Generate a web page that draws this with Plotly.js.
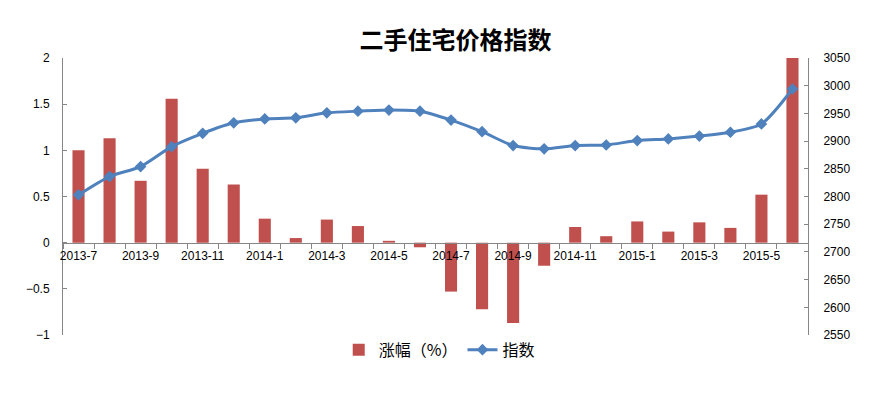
<!DOCTYPE html>
<html>
<head>
<meta charset="utf-8">
<script src="https://cdn.plot.ly/plotly-3.0.1.min.js"></script>
<style>
html,body{margin:0;padding:0;background:#fff;}
#chart{width:876px;height:393px;}
</style>
</head>
<body>
<div id="chart"></div>
<script>
const months = ["2013-7","2013-8","2013-9","2013-10","2013-11","2013-12",
  "2014-1","2014-2","2014-3","2014-4","2014-5","2014-6",
  "2014-7","2014-8","2014-9","2014-10","2014-11","2014-12",
  "2015-1","2015-2","2015-3","2015-4","2015-5","2015-6"];
const change = [1.00,1.13,0.67,1.56,0.80,0.63,0.26,0.05,0.25,0.18,0.02,-0.05,
  -0.53,-0.72,-0.87,-0.25,0.17,0.07,0.23,0.12,0.22,0.16,0.52,2.00];
const indexVals = [2803,2836,2854,2890,2914,2933,2940,2942,2951,2954,2956,2954,
  2938,2917,2892,2886,2892,2893,2901,2904,2909,2916,2931,2994];
const seriesNames = ["涨幅（%）","指数"];
const titleText = "二手住宅价格指数";

const xi = months.map((m,i)=>i);
const labelIdx = xi.filter(i=>i%2===0);
const labelText = labelIdx.map(i=>months[i]);

const axisColor = "#868686";
const numFont = "Liberation Sans, Arial, Noto Sans CJK SC, sans-serif";
const cjkFont = "Noto Sans CJK SC, Liberation Sans, sans-serif";

const traces = [
  {type:"bar", x:xi, y:change, name:seriesNames[0],
   marker:{color:"#C0504D"}, hoverinfo:"skip"},
  {type:"scatter", mode:"lines+markers", x:xi, y:indexVals, name:seriesNames[1],
   yaxis:"y2", line:{color:"#4F81BD", width:3, shape:"spline", smoothing:0.7},
   marker:{symbol:"diamond", size:9, color:"#4F81BD"}, hoverinfo:"skip"}
];

const layout = {
  width:876, height:393,
  margin:{l:63, r:68, t:58, b:58},
  paper_bgcolor:"#fff", plot_bgcolor:"rgba(0,0,0,0)",
  bargap:0.61,
  showlegend:true,
  title:{text:titleText, x:0.52, xanchor:"center", y:0.897, yanchor:"middle",
    font:{family:cjkFont, size:24, color:"#000", weight:"bold"}},
  legend:{orientation:"h", x:0.505, xanchor:"center", y:0.008, yanchor:"top",
    font:{family:cjkFont, size:16, color:"#000"}, bgcolor:"rgba(0,0,0,0)",
    itemwidth:30, tracegroupgap:0},
  xaxis:{type:"linear", range:[-0.5, xi.length-0.5], anchor:"free", position:1/3,
    showline:true, linecolor:axisColor, linewidth:1, showgrid:false, zeroline:false,
    tickmode:"array", tickvals:labelIdx, ticktext:labelText, ticks:"", ticklabelstandoff:2,
    tickfont:{family:numFont, size:12, color:"#000"},
    minor:{tickmode:"linear", tick0:-0.5, dtick:1, ticks:"outside", ticklen:5,
      tickcolor:axisColor, showgrid:false}},
  yaxis:{range:[-1,2], dtick:0.5, showline:true, linecolor:axisColor, linewidth:1,
    showgrid:false, zeroline:false, ticks:"inside", ticklen:4, tickcolor:axisColor,
    tickfont:{family:numFont, size:12, color:"#000"}, ticklabelstandoff:10},
  yaxis2:{range:[2550,3050], dtick:50, overlaying:"y", side:"right", showline:true,
    linecolor:axisColor, linewidth:1, showgrid:false, zeroline:false,
    ticks:"inside", ticklen:4, tickcolor:axisColor,
    tickfont:{family:numFont, size:12, color:"#000"}, ticklabelstandoff:12}
};

Plotly.newPlot("chart", traces, layout, {displayModeBar:false, staticPlot:true});
</script>
</body>
</html>
